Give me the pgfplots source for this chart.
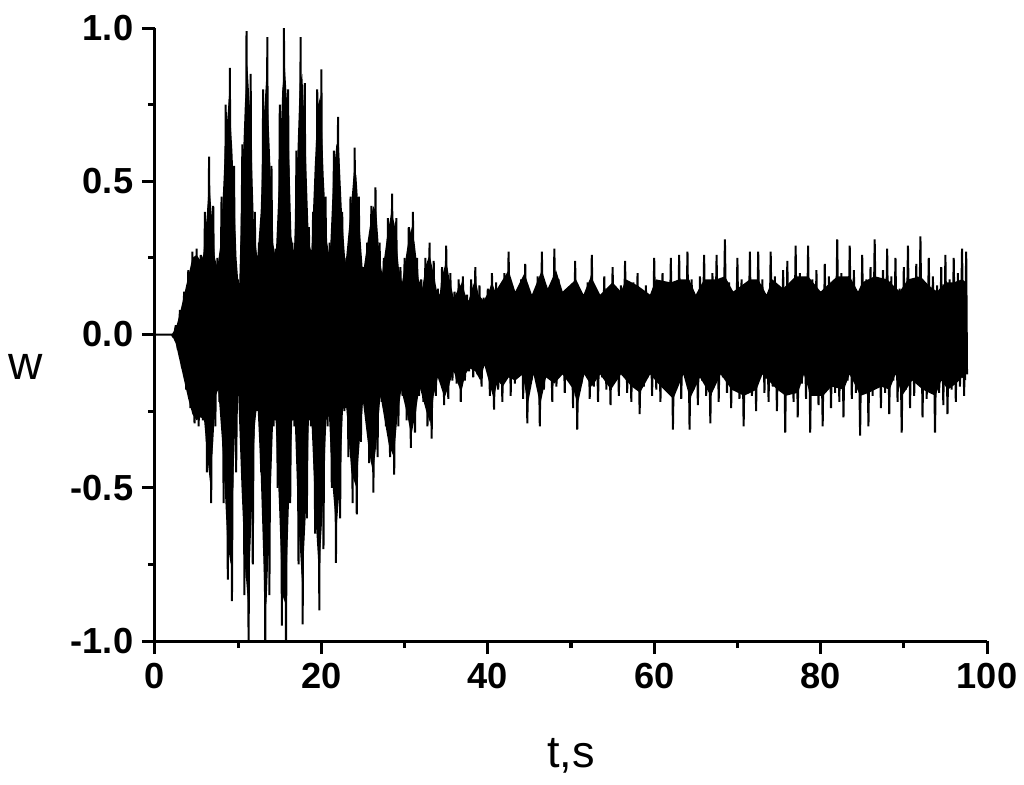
\documentclass[border=0pt]{standalone}
\usepackage{fontspec}
\setmainfont{Liberation Sans}
\usepackage{pgfplots}
\pgfplotsset{compat=1.18}
\usepgfplotslibrary{fillbetween}
\begin{document}
\begin{tikzpicture}
\begin{axis}[
    scale only axis, width=332.8pt, height=245.2pt,
    xmin=0, xmax=100, ymin=-1, ymax=1,
    axis x line*=bottom, axis y line*=left,
    axis line style={-, line width=1.2pt},
    tick align=outside, major tick length=5.2pt, minor tick length=2.8pt,
    tick style={black, line width=1.2pt},
    xtick={0,20,...,100}, xticklabels={0,20,40,60,80,100},
    ytick={-1,-0.5,0,0.5,1}, yticklabels={-1.0,-0.5,0.0,0.5,1.0},
    minor x tick num=1, minor y tick num=1,
    ticklabel style={font=\fontsize{14.5}{16}\selectfont\bfseries},
    xlabel={t,s}, ylabel={w},
    xlabel style={font=\fontsize{18}{20}\selectfont, at={(axis description cs:0.5,-0.207)}, anchor=base},
    ylabel style={font=\fontsize{19}{21}\selectfont, rotate=-90, at={(axis description cs:-0.156,0.4258)}, anchor=base},
]
% solid black body of the oscillation: upper and lower edge
\addplot[name path=up, draw=none] coordinates {
(2,0)(2.5,0.02)(3,0.07)(3.5,0.13)(4,0.19)(4.5,0.25)(5,0.26)(5.5,0.24)
(5.8,0.26)(6.2,0.38)(6.5,0.5)(6.8,0.4)(7.2,0.25)(7.5,0.22)
(7.9,0.3)(8.4,0.6)(8.9,0.78)(9.3,0.6)(9.8,0.25)(10.1,0.14)
(10.4,0.45)(10.8,0.75)(11.1,0.88)(11.5,0.7)(11.9,0.35)(12.3,0.25)
(12.7,0.4)(13.1,0.72)(13.4,0.85)(13.8,0.6)(14.2,0.3)(14.5,0.25)
(14.9,0.5)(15.3,0.8)(15.6,0.88)(16.0,0.7)(16.4,0.32)(16.7,0.27)
(17.0,0.5)(17.4,0.82)(17.7,0.85)(18.1,0.62)(18.5,0.3)(18.8,0.27)
(19.2,0.55)(19.6,0.75)(19.9,0.78)(20.3,0.5)(20.7,0.3)(21.0,0.25)
(21.4,0.5)(21.8,0.62)(22.1,0.62)(22.5,0.38)(22.9,0.23)
(23.5,0.4)(23.9,0.53)(24.2,0.52)(24.6,0.35)(25.0,0.2)
(25.7,0.33)(26.2,0.42)(26.6,0.4)(27.0,0.25)(27.3,0.2)
(27.9,0.32)(28.4,0.40)(28.8,0.36)(29.3,0.22)(29.7,0.17)
(30.3,0.28)(30.8,0.35)(31.2,0.3)(31.7,0.18)(32.1,0.15)
(32.6,0.23)(33.0,0.26)(33.4,0.21)(33.9,0.14)(34.2,0.13)
(34.6,0.2)(35.0,0.24)(35.4,0.18)(35.9,0.12)
(36.5,0.15)(36.9,0.17)(37.3,0.13)(37.7,0.11)
(38.1,0.15)(38.5,0.18)(38.9,0.13)(39.5,0.11)
(40.1,0.14)(40.5,0.17)(40.9,0.14)
(42.5,0.21)(43.3,0.14)(44.4,0.2)(45.3,0.13)(46.5,0.21)(47.2,0.15)(48.2,0.21)(49,0.14)(50.6,0.18)(51.5,0.13)
(52.4,0.19)(53.5,0.13)(55,0.17)(56,0.14)(56.6,0.18)(58,0.16)(59.5,0.13)(60.2,0.18)(62,0.17)(63,0.18)
(64.2,0.18)(65,0.13)(66,0.18)(67.5,0.18)(68.5,0.19)(69.5,0.14)(71.5,0.18)(72.5,0.18)(73.5,0.13)(74.2,0.18)
(75.5,0.15)(77,0.19)(78.5,0.19)(80,0.14)(82,0.19)(83.5,0.19)(84.5,0.14)(85,0.17)(86.5,0.19)(88,0.18)
(89.5,0.14)(90.5,0.18)(92,0.19)(93,0.16)(94,0.14)(95,0.17)(96,0.17)(97,0.18)(97.5,0.17)
};
\addplot[name path=lo, draw=none] coordinates {
(2,0)(2.5,-0.03)(3,-0.09)(3.5,-0.15)(4,-0.21)(4.5,-0.26)(5,-0.28)(5.5,-0.27)(5.9,-0.28)
(6.3,-0.4)(6.6,-0.48)(7.0,-0.35)(7.3,-0.2)(7.6,-0.18)
(8.2,-0.4)(8.7,-0.68)(9.1,-0.75)(9.5,-0.4)(9.9,-0.12)
(10.4,-0.5)(10.8,-0.75)(11.2,-0.88)(11.6,-0.6)(12.0,-0.3)(12.3,-0.22)
(12.7,-0.45)(13.1,-0.8)(13.4,-0.88)(13.8,-0.6)(14.2,-0.28)(14.5,-0.28)
(14.9,-0.55)(15.3,-0.85)(15.7,-0.88)(16.1,-0.55)(16.5,-0.28)(16.8,-0.28)
(17.2,-0.6)(17.7,-0.82)(18.1,-0.6)(18.5,-0.28)(18.8,-0.28)
(19.3,-0.6)(19.7,-0.78)(20.1,-0.6)(20.6,-0.28)(20.9,-0.26)
(21.3,-0.48)(21.8,-0.64)(22.2,-0.5)(22.6,-0.24)(23.0,-0.24)
(23.6,-0.45)(24.2,-0.5)(24.6,-0.35)(25.0,-0.22)
(25.7,-0.38)(26.2,-0.45)(26.6,-0.36)(27.1,-0.2)
(28.1,-0.36)(28.7,-0.4)(29.1,-0.28)(29.6,-0.18)
(30.3,-0.26)(30.8,-0.33)(31.3,-0.26)(31.8,-0.17)
(32.6,-0.25)(33.1,-0.29)(33.5,-0.2)(34.0,-0.14)
(34.6,-0.19)(34.9,-0.2)(35.4,-0.16)(35.9,-0.12)
(36.4,-0.16)(36.8,-0.19)(37.3,-0.13)(37.8,-0.11)
(38.5,-0.12)(39.1,-0.15)(39.6,-0.1)(40.3,-0.17)(40.7,-0.21)(41.2,-0.15)(41.8,-0.17)
(42.5,-0.14)(43.3,-0.15)(44.2,-0.13)(44.8,-0.23)(45.5,-0.13)(46.3,-0.23)(47,-0.14)(48,-0.16)(49,-0.13)(50.3,-0.18)
(50.8,-0.23)(51.6,-0.13)(52.5,-0.17)(53.5,-0.13)(54.8,-0.18)(56,-0.13)(57.3,-0.17)(58.3,-0.19)(59.5,-0.13)(60.8,-0.17)
(62.3,-0.21)(63.5,-0.13)(64.3,-0.21)(65.5,-0.14)(66.8,-0.2)(68,-0.13)(69.3,-0.18)(70.8,-0.2)(72.3,-0.18)(73,-0.13)
(74.8,-0.18)(75.8,-0.2)(77.3,-0.19)(78,-0.13)(78.8,-0.2)(80.3,-0.2)(81.3,-0.17)(82.8,-0.18)(83.5,-0.13)(84.8,-0.2)
(85.8,-0.19)(87.3,-0.17)(88.3,-0.18)(89,-0.13)(89.8,-0.2)(91,-0.15)(92.3,-0.18)(93.8,-0.2)(94.5,-0.15)(95.3,-0.18)
(96.3,-0.16)(97,-0.14)(97.5,-0.15)
};
\addplot[black] fill between[of=up and lo];
% individual oscillation spikes
\addplot[black, line width=0.8pt, line join=bevel] coordinates {
(0,0)(2,0)(2.25,-0.01)(2.5,0.03)(2.75,-0.05)(3,0.08)(3.25,-0.11)(3.5,0.14)(3.75,-0.18)(4,0.21)(4.25,-0.24)(4.5,0.27)(4.75,-0.29)
(5,0.28)(5.25,-0.30)(5.5,0.26)(5.75,-0.28)(6,0.40)(6.25,-0.45)(6.5,0.58)(6.75,-0.55)(7,0.42)(7.25,-0.30)(7.5,0.25)(7.75,-0.22)
(8,0.45)(8.25,-0.55)(8.5,0.75)(8.75,-0.80)(9,0.87)(9.25,-0.87)(9.5,0.55)(9.75,-0.45)(10,0.18)(10.25,-0.15)(10.5,0.62)(10.75,-0.85)
(11,0.99)(11.25,-1.05)(11.5,0.85)(11.75,-0.75)(12,0.40)(12.25,-0.25)(12.5,0.30)(12.75,-0.45)(13,0.80)(13.25,-1.05)(13.5,0.97)(13.75,-0.85)
(14,0.55)(14.25,-0.30)(14.5,0.28)(14.75,-0.50)(15,0.75)(15.25,-0.95)(15.5,1.00)(15.75,-1.04)(16,0.80)(16.25,-0.55)(16.5,0.30)(16.75,-0.30)
(17,0.60)(17.25,-0.75)(17.5,0.97)(17.75,-0.946)(18,0.82)(18.25,-0.60)(18.5,0.35)(18.75,-0.30)(19,0.40)(19.25,-0.65)(19.5,0.80)(19.75,-0.90)
(20,0.865)(20.25,-0.70)(20.5,0.45)(20.75,-0.30)(21,0.30)(21.25,-0.50)(21.5,0.60)(21.75,-0.745)(22,0.71)(22.25,-0.60)(22.5,0.40)(22.75,-0.25)
(23,0.25)(23.25,-0.40)(23.5,0.45)(23.75,-0.55)(24,0.61)(24.25,-0.587)(24.5,0.45)(24.75,-0.35)(25,0.22)(25.25,-0.25)(25.5,0.30)(25.75,-0.42)
(26,0.42)(26.25,-0.516)(26.5,0.48)(26.75,-0.40)(27,0.30)(27.25,-0.22)(27.5,0.25)(27.75,-0.30)(28,0.38)(28.25,-0.40)(28.5,0.46)(28.75,-0.457)
(29,0.38)(29.25,-0.30)(29.5,0.22)(29.75,-0.20)(30,0.25)(30.25,-0.28)(30.5,0.35)(30.75,-0.37)(31,0.40)(31.25,-0.32)(31.5,0.25)(31.75,-0.20)
(32,0.18)(32.25,-0.22)(32.5,0.25)(32.75,-0.30)(33,0.30)(33.25,-0.34)(33.5,0.24)(33.75,-0.20)(34,0.15)(34.25,-0.15)(34.5,0.22)(34.75,-0.23)
(35,0.29)(35.25,-0.21)(35.5,0.20)(35.75,-0.15)(36,0.14)(36.25,-0.16)(36.5,0.18)(36.75,-0.22)(37,0.19)(37.25,-0.15)(37.5,0.13)(37.75,-0.12)
(38,0.18)(38.25,-0.14)(38.5,0.22)(38.75,-0.13)(39,0.16)(39.25,-0.17)(39.5,0.12)(39.75,-0.10)(40,0.15)(40.25,-0.20)(40.5,0.20)(40.75,-0.245)
(41,0.17)(41.25,-0.18)(41.5,0.12)(41.75,-0.22)(42,0.20)(42.25,-0.14)(42.5,0.27)(42.75,-0.20)(43,0.15)(43.25,-0.16)(43.5,0.11)(43.75,-0.12)
(44,0.18)(44.25,-0.21)(44.5,0.23)(44.75,-0.29)(45,0.13)(45.25,-0.15)(45.5,0.10)(45.75,-0.13)(46,0.19)(46.25,-0.30)(46.5,0.27)(46.75,-0.18)
(47,0.16)(47.25,-0.14)(47.5,0.12)(47.75,-0.22)(48,0.28)(48.25,-0.17)(48.5,0.18)(48.75,-0.12)(49,0.12)(49.25,-0.19)(49.5,0.15)(49.75,-0.15)
(50,0.13)(50.25,-0.24)(50.5,0.24)(50.75,-0.31)(51,0.14)(51.25,-0.16)(51.5,0.11)(51.75,-0.13)(52,0.17)(52.25,-0.21)(52.5,0.26)(52.75,-0.17)
(53,0.15)(53.25,-0.22)(53.5,0.12)(53.75,-0.14)(54,0.19)(54.25,-0.18)(54.5,0.14)(54.75,-0.23)(55,0.22)(55.25,-0.15)(55.5,0.12)(55.75,-0.20)
(56,0.16)(56.25,-0.13)(56.5,0.24)(56.75,-0.19)(57,0.13)(57.25,-0.22)(57.5,0.17)(57.75,-0.15)(58,0.20)(58.25,-0.26)(58.5,0.13)(58.75,-0.17)
(59,0.16)(59.25,-0.14)(59.5,0.12)(59.75,-0.20)(60,0.25)(60.25,-0.18)(60.5,0.16)(60.75,-0.22)(61,0.20)(61.25,-0.15)(61.5,0.13)(61.75,-0.19)
(62,0.25)(62.25,-0.31)(62.5,0.17)(62.75,-0.16)(63,0.26)(63.25,-0.21)(63.5,0.14)(63.75,-0.14)(64,0.27)(64.25,-0.31)(64.5,0.18)(64.75,-0.18)
(65,0.12)(65.25,-0.23)(65.5,0.19)(65.75,-0.15)(66,0.26)(66.25,-0.20)(66.5,0.15)(66.75,-0.29)(67,0.20)(67.25,-0.16)(67.5,0.26)(67.75,-0.22)
(68,0.14)(68.25,-0.14)(68.5,0.31)(68.75,-0.19)(69,0.17)(69.25,-0.24)(69.5,0.13)(69.75,-0.17)(70,0.25)(70.25,-0.21)(70.5,0.18)(70.75,-0.30)
(71,0.14)(71.25,-0.16)(71.5,0.27)(71.75,-0.20)(72,0.16)(72.25,-0.25)(72.5,0.27)(72.75,-0.14)(73,0.18)(73.25,-0.19)(73.5,0.12)(73.75,-0.22)
(74,0.27)(74.25,-0.17)(74.5,0.19)(74.75,-0.25)(75,0.15)(75.25,-0.15)(75.5,0.21)(75.75,-0.32)(76,0.24)(76.25,-0.18)(76.5,0.16)(76.75,-0.22)
(77,0.29)(77.25,-0.27)(77.5,0.20)(77.75,-0.16)(78,0.14)(78.25,-0.21)(78.5,0.29)(78.75,-0.32)(79,0.18)(79.25,-0.18)(79.5,0.21)(79.75,-0.23)
(80,0.14)(80.25,-0.30)(80.5,0.23)(80.75,-0.16)(81,0.19)(81.25,-0.24)(81.5,0.15)(81.75,-0.19)(82,0.31)(82.25,-0.22)(82.5,0.20)(82.75,-0.27)
(83,0.16)(83.25,-0.15)(83.5,0.29)(83.75,-0.21)(84,0.21)(84.25,-0.19)(84.5,0.14)(84.75,-0.33)(85,0.26)(85.25,-0.17)(85.5,0.18)(85.75,-0.30)
(86,0.22)(86.25,-0.20)(86.5,0.31)(86.75,-0.16)(87,0.17)(87.25,-0.24)(87.5,0.21)(87.75,-0.19)(88,0.28)(88.25,-0.26)(88.5,0.19)(88.75,-0.15)
(89,0.25)(89.25,-0.22)(89.5,0.15)(89.75,-0.32)(90,0.22)(90.25,-0.18)(90.5,0.29)(90.75,-0.24)(91,0.18)(91.25,-0.20)(91.5,0.23)(91.75,-0.15)
(92,0.32)(92.25,-0.27)(92.5,0.17)(92.75,-0.21)(93,0.25)(93.25,-0.17)(93.5,0.19)(93.75,-0.32)(94,0.16)(94.25,-0.19)(94.5,0.22)(94.75,-0.23)
(95,0.26)(95.25,-0.26)(95.5,0.18)(95.75,-0.18)(96,0.25)(96.25,-0.22)(96.5,0.20)(96.75,-0.17)(97,0.28)(97.25,-0.20)(97.5,0.27)(97.6,-0.13)
};
\coordinate (bbl) at (rel axis cs:-0.1863,-0.2333);
\coordinate (btr) at (rel axis cs:1.0445,1.0457);
\end{axis}
\pgfresetboundingbox
\useasboundingbox (bbl) rectangle (btr);
\end{tikzpicture}
\end{document}
